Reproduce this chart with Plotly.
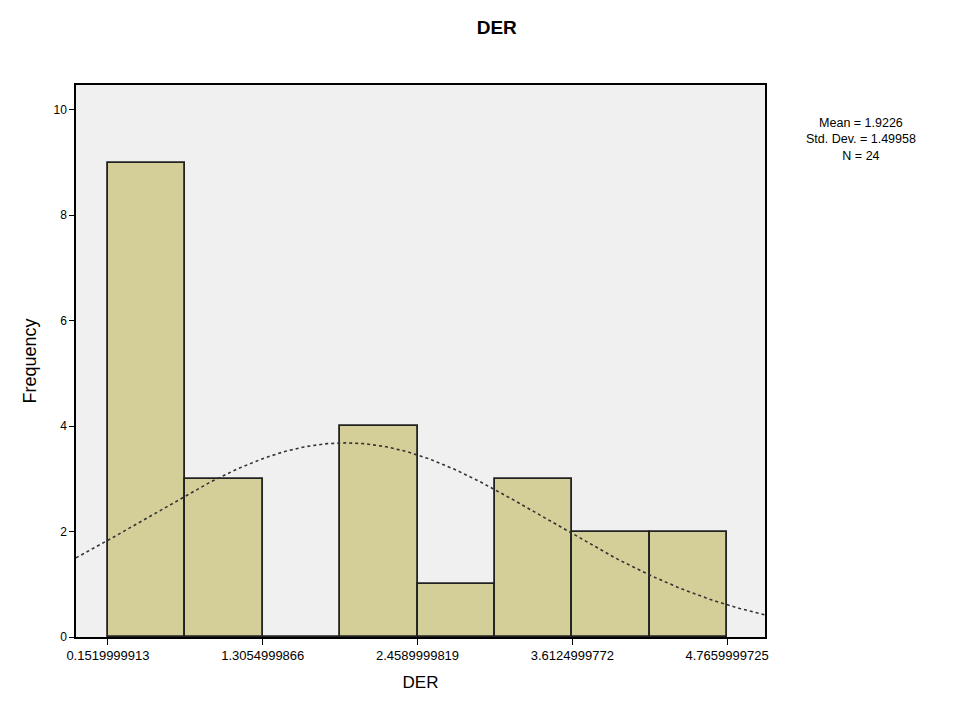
import numpy as np
import plotly.graph_objects as go

# Histogram of DER (debt to equity ratio)
bin_edges = [0.1519999913, 0.7287499889, 1.3054999866, 1.8822499842, 2.4589999819,
             3.0357499795, 3.6124999772, 4.1892499748, 4.7659999725]
counts = [9, 3, 0, 4, 1, 3, 2, 2]
tick_vals = [0.1519999913, 1.3054999866, 2.4589999819, 3.6124999772, 4.7659999725]
tick_text = ["0.1519999913", "1.3054999866", "2.4589999819", "3.6124999772", "4.7659999725"]
y_ticks = [0, 2, 4, 6, 8, 10]
mean_val = 1.9226
std_val = 1.49958
n_val = 24

edges = np.array(bin_edges)
width = edges[1] - edges[0]
centers = (edges[:-1] + edges[1:]) / 2

x_lo = edges[0] - 0.413 * width
x_hi = edges[0] + 8.49 * width

fig = go.Figure()
fig.add_trace(go.Bar(
    x=centers, y=counts, width=width,
    marker=dict(color="#d4cf98", line=dict(color="#222222", width=1.8)),
    hoverinfo="skip", showlegend=False,
))

# fitted normal curve scaled to counts
xs = np.linspace(x_lo, x_hi, 300)
ys = n_val * width / (std_val * np.sqrt(2 * np.pi)) * np.exp(-0.5 * ((xs - mean_val) / std_val) ** 2)
fig.add_trace(go.Scatter(
    x=xs, y=ys, mode="lines",
    line=dict(color="#333333", width=1.6, dash="dot"),
    hoverinfo="skip", showlegend=False,
))

font = "Liberation Sans, Arial, sans-serif"
fig.update_layout(
    width=959, height=709,
    margin=dict(l=76, r=194, t=85, b=72),
    paper_bgcolor="white",
    plot_bgcolor="#f0f0f0",
    bargap=0,
    font=dict(family=font, color="black", size=12),
    title=dict(text="<b>DER</b>", x=0.518, xanchor="center", y=0.962, yanchor="middle",
               font=dict(size=19, family=font)),
    xaxis=dict(
        range=[x_lo, x_hi], tickvals=tick_vals, ticktext=tick_text,
        ticks="outside", ticklen=6, tickcolor="black",
        showline=True, linecolor="black", linewidth=1.5, mirror=True,
        showgrid=False, zeroline=False,
        title=dict(text="DER", font=dict(size=17), standoff=14),
        tickfont=dict(size=13),
    ),
    yaxis=dict(
        range=[0, 10.47], tickvals=y_ticks, ticktext=[str(v) for v in y_ticks],
        ticks="outside", ticklen=5, tickcolor="black",
        showline=True, linecolor="black", linewidth=1.5, mirror=True,
        showgrid=False, zeroline=False,
        title=dict(text="Frequency", font=dict(size=18), standoff=12),
        tickfont=dict(size=12),
    ),
    annotations=[dict(
        text=f"Mean = {mean_val:.4f}<br>Std. Dev. = {std_val:.5f}<br>N = {n_val}",
        xref="paper", yref="paper", x=1.14, y=0.948, xanchor="center", yanchor="top",
        showarrow=False, align="center", font=dict(size=12.5, family=font),
    )],
)

fig.write_html("out.html")
